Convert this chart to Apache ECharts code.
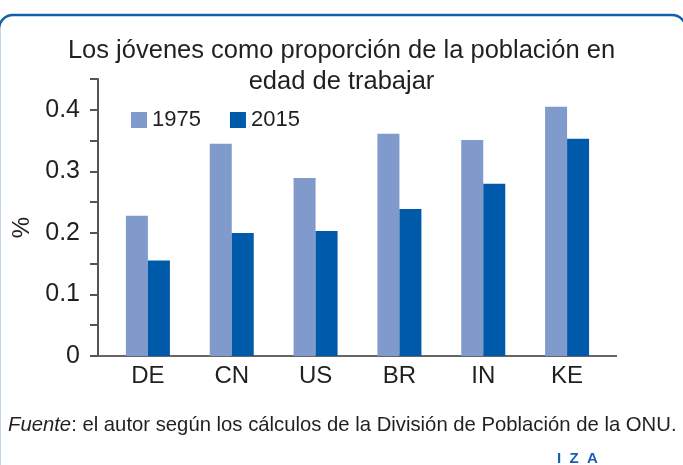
<!DOCTYPE html>
<html>
<head>
<meta charset="utf-8">
<script src="https://cdn.jsdelivr.net/npm/echarts@6/dist/echarts.min.js"></script>
<style>
  html, body { margin: 0; padding: 0; background: #fff; }
  #chart { width: 683px; height: 465px; }
</style>
</head>
<body>
<div id="chart"></div>
<script>
  // datos
  var paises = ["DE", "CN", "US", "BR", "IN", "KE"];
  var valores1975 = [0.228, 0.345, 0.289, 0.361, 0.351, 0.405];
  var valores2015 = [0.155, 0.200, 0.203, 0.239, 0.280, 0.353];
  var etiquetasY = [0, 0.1, 0.2, 0.3, 0.4];

  var gridTop = 79;
  var gridBottom = 109;
  var baseY = 465 - gridBottom;

  var chart = echarts.init(document.getElementById("chart"), null, { renderer: "canvas" });

  var option = {
    backgroundColor: "#fff",
    animation: false,
    textStyle: { fontFamily: "Liberation Sans", color: "#231F20" },
    title: {
      text: "Los jóvenes como proporción de la población en\nedad de trabajar",
      left: "center",
      top: 30,
      textStyle: {
        fontSize: 25.5,
        fontWeight: "normal",
        lineHeight: 31,
        color: "#231F20",
        fontFamily: "Liberation Sans"
      }
    },
    legend: {
      left: 126,
      top: 104,
      itemWidth: 16,
      itemHeight: 16,
      itemGap: 29,
      icon: "rect",
      textStyle: { fontSize: 22, color: "#231F20" },
      data: ["1975", "2015"]
    },
    grid: {
      left: 106,
      right: 74,
      top: gridTop,
      bottom: gridBottom,
      containLabel: false
    },
    xAxis: {
      type: "category",
      data: paises,
      axisLine: { show: false },
      axisTick: { show: false },
      axisLabel: { fontSize: 24, color: "#231F20", margin: 8 }
    },
    yAxis: {
      type: "value",
      min: 0,
      max: 0.45,
      interval: 0.05,
      offset: 8,
      name: "%",
      nameLocation: "middle",
      nameRotate: 90,
      nameGap: 62,
      nameTextStyle: { fontSize: 24, color: "#231F20", padding: [0, 20, 0, 0] },
      axisLine: { show: true, lineStyle: { color: "#555", width: 2 } },
      axisTick: { show: true, length: 8, lineStyle: { color: "#555", width: 2 } },
      splitLine: { show: false },
      axisLabel: {
        fontSize: 25,
        color: "#231F20",
        margin: 18,
        formatter: function (v) {
          var r = Math.round(v * 100) / 100;
          return etiquetasY.indexOf(r) >= 0 ? String(r) : "";
        }
      }
    },
    series: [
      {
        name: "1975",
        type: "bar",
        data: valores1975,
        barWidth: 22,
        barGap: "0%",
        itemStyle: { color: "#7F9ACB" }
      },
      {
        name: "2015",
        type: "bar",
        data: valores2015,
        barWidth: 22,
        barGap: "0%",
        itemStyle: { color: "#005AAA" }
      }
    ],
    graphic: [
      {
        type: "rect",
        shape: { x: -1, y: 15, width: 687, height: 470, r: 14 },
        style: { fill: "none", stroke: "#1060AA", lineWidth: 2.5 },
        silent: true
      },
      {
        type: "line",
        shape: { x1: 98, y1: baseY, x2: 617, y2: baseY },
        style: { stroke: "#333", lineWidth: 1.5 },
        silent: true
      },
      {
        type: "text",
        left: 8,
        top: 415,
        style: {
          text: "{i|Fuente}: el autor según los cálculos de la División de Población de la ONU.",
          fontSize: 20.3,
          fontFamily: "Liberation Sans",
          fill: "#231F20",
          rich: {
            i: { fontStyle: "italic", fontSize: 20.3, fontFamily: "Liberation Sans", fill: "#231F20" }
          }
        }
      },
      {
        type: "text",
        left: 557,
        top: 451,
        style: {
          text: "I  Z  A",
          fontSize: 15,
          fontWeight: "bold",
          fontFamily: "Liberation Sans",
          fill: "#1A5FAD"
        }
      }
    ]
  };

  chart.setOption(option);
</script>
</body>
</html>
